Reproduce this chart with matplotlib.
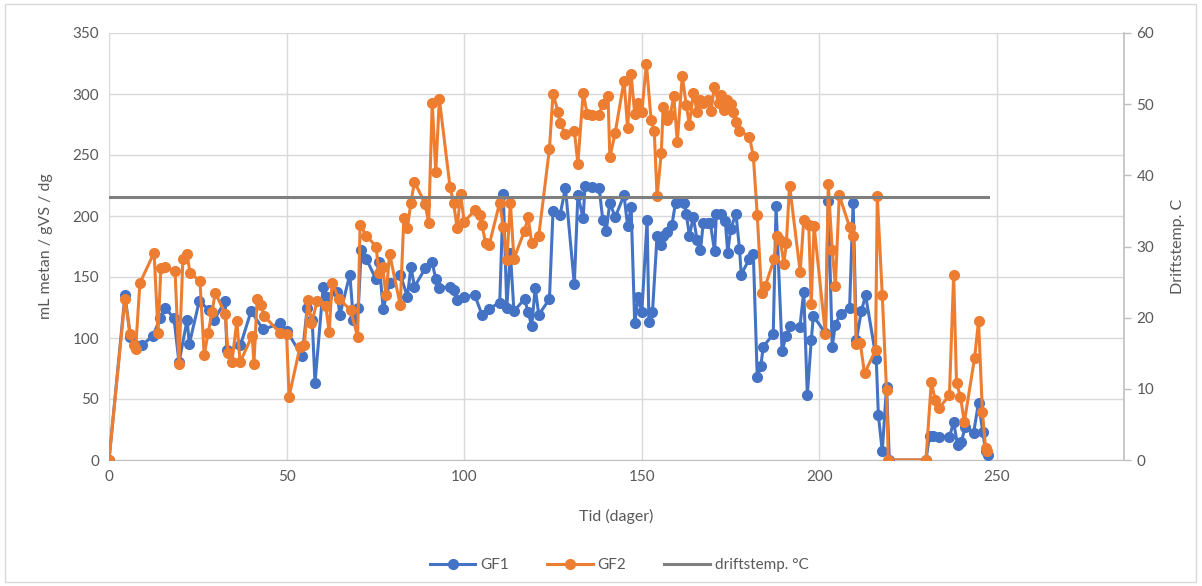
import matplotlib
matplotlib.use("Agg")
import matplotlib.pyplot as plt
from matplotlib.lines import Line2D

plt.rcParams['font.family'] = ['Lato', 'DejaVu Sans']

gf1_days = [0, 4.5, 6, 9.3, 12.4, 14.4, 15.8, 18.3, 19.7, 22, 22.6, 25.4, 28.2, 29.6, 32.7, 33.2,
            37, 40, 43.4, 48.2, 50, 54.4, 55.8, 57.2, 58, 60.3, 61.4, 64.2, 65, 67.8, 68.8, 70.2,
            71, 72.4, 75.2, 76, 77.2, 79, 82, 84, 85, 86, 89, 91, 92, 93, 96, 97, 98, 100, 103,
            105, 107, 110, 111, 112, 113, 114, 117, 118, 119, 120, 121, 124, 125, 127, 128.5, 131,
            132, 133.5, 134, 136, 138, 139, 140, 141, 142.5, 145, 146, 147, 148, 149, 150, 151.5,
            152, 153, 154.3, 155.5, 156, 157, 158.5, 159.5, 161, 162, 162.5, 163.4, 164.5, 165.6,
            166.5, 167.3, 168.5, 169.3, 170.5, 171, 172.4, 173.5, 174.2, 175, 176.5, 177.5, 178,
            180.3, 181.4, 182.5, 183.5, 184.2, 187, 187.8, 189.5, 190.6, 191.8, 194.5, 195.6,
            196.6, 197.7, 198.3, 201.7, 202.5, 203.6, 204.5, 206, 208.5, 209.5, 210.4, 211.8,
            213, 216, 216.6, 217.7, 218.9, 219.7, 230, 231, 232, 233.8, 236.6, 237.8, 238.9,
            240, 241, 243.4, 244.8, 246, 246.8, 247.6]
gf1_vals = [0, 135, 101, 94, 102, 116, 125, 116, 80, 115, 95, 130, 123, 115, 130, 90,
            94, 122, 107, 112, 106, 85, 125, 115, 63, 142, 134, 138, 119, 152, 115, 125,
            172, 165, 148, 162, 124, 145, 152, 134, 158, 142, 157, 162, 148, 141, 142, 139, 131, 134, 135,
            119, 124, 129, 218, 125, 170, 122, 132, 121, 110, 141, 119, 132, 204, 201, 223, 144,
            217, 198, 225, 224, 223, 197, 188, 211, 199, 217, 192, 207, 112, 134, 121, 197,
            113, 121, 184, 176, 184, 187, 193, 211, 212, 211, 202, 184, 199, 180,
            172, 194, 194, 194, 171, 202, 202, 196, 170, 189, 202, 173, 152,
            165, 169, 68, 77, 93, 103, 208, 89, 102, 110, 109, 138,
            53, 98, 118, 104, 212, 93, 111, 120, 125, 211, 98, 122,
            135, 83, 37, 7, 60, 0, 0, 20, 20, 19, 19, 31, 12,
            15, 27, 22, 47, 23, 7, 4]

gf2_days = [0, 4.5, 6, 7, 7.5, 8.7, 12.7, 13.8, 14.6, 15.8, 18.6, 19.7, 20.8, 22, 22.8, 25.6,
            26.8, 27.9, 29, 29.9, 32.7, 33.5, 34.6, 36, 36.9, 40.3, 40.8, 41.7, 42.8, 43.7, 48.2,
            50, 50.7, 53.8, 55, 56, 57, 58.6, 61, 62, 62.8, 64.8, 68, 70, 70.7, 72.4, 75.2, 76,
            77, 78, 79, 82, 83, 84, 85, 86, 89, 90, 91, 92, 93, 96, 97, 98, 99, 100, 103, 104.5,
            105, 106, 107, 110, 111, 112, 113, 114, 117, 118, 119, 121, 124, 125, 126.5, 127,
            128.5, 131, 132, 133.5, 134.6, 136, 138, 139, 140.5, 141, 142.5, 145, 146, 147, 148,
            149, 150, 151.3, 152.6, 153.5, 154.3, 155.5, 156, 157, 158, 159, 160, 161.4, 162.5,
            163.4, 164.5, 165.6, 166.5, 167.3, 168.5, 169.5, 170.4, 171.6, 172.4, 173.2, 174,
            175, 175.8, 176.6, 177.5, 180.3, 181.4, 182.5, 183.7, 184.8, 187.3, 188, 189, 190,
            190.7, 191.6, 194.6, 195.6, 197, 197.7, 198.5, 201.7, 202.5, 203.6, 204.5, 205.6,
            208.5, 209.5, 210.4, 211.5, 212.7, 215.8, 216.3, 217.7, 218.9, 219.4, 230, 231.5,
            232.6, 233.8, 236.6, 237.8, 238.6, 239.7, 240.8, 243.7, 244.8, 245.9, 246.8, 247.3]
gf2_vals = [0, 132, 103, 94, 91, 145, 170, 104, 157, 158, 155, 79, 165, 169, 153, 147,
            86, 104, 121, 137, 120, 88, 80, 114, 80, 102, 79, 132, 127, 118, 104,
            103, 52, 93, 94, 131, 112, 130, 126, 105, 145, 132, 123, 101, 193, 184, 175, 153,
            158, 135, 169, 127, 198, 190, 211, 228, 210, 194, 293, 236, 296, 224, 211, 190, 218, 195, 205, 201,
            193, 178, 176, 211, 191, 164, 211, 165, 188, 199, 178, 184, 255, 300, 285, 276,
            267, 270, 243, 301, 284, 283, 283, 292, 298, 248, 268, 311, 272, 316, 284,
            293, 285, 325, 279, 270, 216, 252, 289, 279, 283, 298, 261, 315, 291,
            275, 301, 285, 295, 293, 295, 286, 306, 293, 299, 287, 295,
            292, 285, 277, 270, 265, 249, 201, 137, 143, 165, 184, 180, 161,
            178, 225, 154, 197, 193, 128, 192, 103, 226, 172, 143, 217,
            191, 184, 95, 96, 71, 90, 216, 135, 57, 0, 0, 64,
            49, 43, 53, 152, 63, 52, 31, 84, 114, 39, 10, 7]

drift_days = [0, 247.6]
drift_temp = [37, 37]

BLUE = '#4472C4'
ORANGE = '#ED7D31'
GRAY = '#7F7F7F'
TXT = '#595959'
GRID = '#D9D9D9'

W, H = 1202, 586
L, R, T, B = 109, 1124, 33, 460
fig = plt.figure(figsize=(W/100, H/100), dpi=100)
fig.patch.set_facecolor('white')
ax = fig.add_axes([L/W, 1 - B/H, (R-L)/W, (B-T)/H])
ax2 = ax.twinx()

ax.plot(gf1_days, gf1_vals, color=BLUE, lw=2.2, marker='o', ms=7, zorder=3)
ax.plot(gf2_days, gf2_vals, color=ORANGE, lw=2.2, marker='o', ms=7, zorder=4)
ax2.plot(drift_days, drift_temp, color=GRAY, lw=2.2, zorder=2)

xmax = 250 * (R - L) / (997 - L)
ax.set_xlim(0, xmax)
ax.set_ylim(0, 350)
ax2.set_ylim(0, 60)
ax.set_xticks([0, 50, 100, 150, 200, 250])
ax.set_yticks(range(0, 351, 50))
ax2.set_yticks(range(0, 61, 10))
ax.grid(True, color=GRID, lw=1)
ax.set_axisbelow(True)
for a in (ax, ax2):
    for s in a.spines.values():
        s.set_visible(False)
ax.tick_params(length=0, labelsize=11, colors=TXT, pad=7)
ax2.tick_params(axis='y', length=5, width=1, color='#BFBFBF', labelsize=11, labelcolor=TXT, pad=4)
ax.spines['bottom'].set_visible(True)
ax.spines['bottom'].set_color('#BFBFBF')
ax2.spines['right'].set_visible(True)
ax2.spines['right'].set_color('#BFBFBF')
ax2.spines['right'].set_linewidth(1.2)

ax.set_xlabel('Tid (dager)', fontsize=11.5, color=TXT, labelpad=18)
ax.set_ylabel('mL metan / gVS / dg', fontsize=11.5, color=TXT, labelpad=14)
ax2.set_ylabel('Driftstemp. C', fontsize=11.5, color=TXT, labelpad=12)

handles = [Line2D([], [], color=BLUE, lw=2.2, marker='o', ms=7),
           Line2D([], [], color=ORANGE, lw=2.2, marker='o', ms=7),
           Line2D([], [], color=GRAY, lw=2.2)]
fig.legend(handles, ['GF1', 'GF2', 'driftstemp. °C'], loc='center', bbox_to_anchor=(0.515, 1 - 565/586),
           ncol=3, frameon=False, fontsize=11, labelcolor=TXT, handlelength=3, columnspacing=2.5,
           handletextpad=0.3)

fig.add_artist(plt.Rectangle((0.004, 0.006), 0.991, 0.988, transform=fig.transFigure,
                             fill=False, edgecolor=GRID, lw=1))
fig.savefig('out.png', dpi=100, facecolor='white')
